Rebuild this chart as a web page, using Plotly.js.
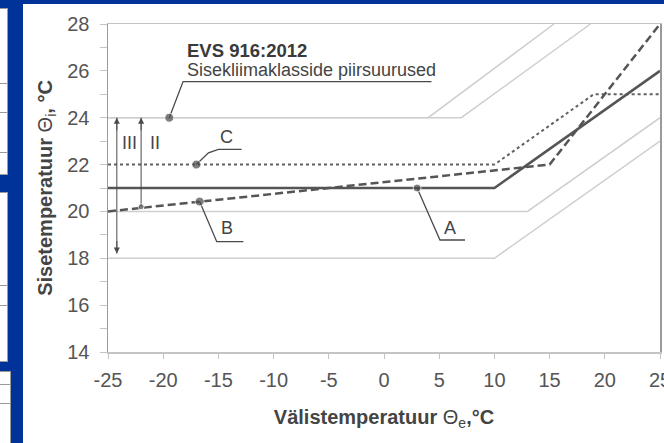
<!DOCTYPE html>
<html>
<head>
<meta charset="utf-8">
<script src="https://cdn.plot.ly/plotly-3.0.1.min.js"></script>
<style>
  html, body { margin: 0; padding: 0; background: #00339a; width: 664px; height: 443px; overflow: hidden; }
  #chart { position: absolute; left: 23px; top: 4px; width: 641px; height: 439px; }
  .pnl { position: absolute; background: #fff; border: 1px solid #9a9a9a; box-sizing: border-box; }
  .row { position: absolute; left: 0; right: 0; height: 0; border-top: 1px solid #9a9a9a; }
</style>
</head>
<body>
<div class="pnl" style="left:-2px; top:8px; width:10px; height:167px;">
  <div class="row" style="top:74px"></div><div class="row" style="top:103px"></div><div class="row" style="top:143px"></div>
</div>
<div class="pnl" style="left:-2px; top:192px; width:10px; height:170px;">
  <div class="row" style="top:92px"></div><div class="row" style="top:112px"></div>
</div>
<div class="pnl" style="left:-2px; top:371px; width:13px; height:80px;">
  <div class="row" style="top:12px"></div><div class="row" style="top:31px"></div>
</div>
<div id="chart"></div>
<script>
// Measured curves (x: outdoor temperature, y: indoor temperature)
const xA = [-25, 10, 25];        const yA = [21, 21, 26];
const xB = [-25, 15, 25];        const yB = [20, 22, 28];
const xC = [-25, 10, 19, 25];    const yC = [22, 22, 25, 25];
// EVS 916:2012 class limit lines
const xU1 = [-25, 4, 15.4];      const yU1 = [24, 24, 28];
const xU2 = [-25, 7, 18.7];      const yU2 = [24, 24, 28];
const xL1 = [-25, 13, 25];       const yL1 = [20, 20, 24];
const xL2 = [-25, 10, 25];       const yL2 = [18, 18, 23];
// Label dots and leader lines
const dotX = [-19.45, -17, -16.7, 3, -22];
const dotY = [24, 22, 20.42, 21, 20.2];
const leadEVSx = [-19.45, -18.2, 4.3];  const leadEVSy = [24, 25.54, 25.54];
const leadCx = [-17, -15.9, -15.0, -12.9]; const leadCy = [22, 22.5, 22.65, 22.65];
const leadBx = [-16.7, -15.15, -12.74]; const leadBy = [20.42, 18.71, 18.71];
const leadAx = [3, 5.07, 7.34];         const leadAy = [21, 18.78, 18.78];
// Labels
const labTxt = ['C', 'B', 'A', 'III', 'II'];
const labX = [-14.25, -14.25, 5.98, -23.07, -20.74];
const labY = [23.19, 19.28, 19.28, 22.9, 22.9];
// Class range arrows
const arrIII = {x: -24.2, y0: 18.2, y1: 24};
const arrII = {x: -22, y0: 20.2, y1: 24};
const xTicks = [-25, -20, -15, -10, -5, 0, 5, 10, 15, 20, 25];
const yTicks = [14, 16, 18, 20, 22, 24, 26, 28];

const FONT = 'Liberation Sans, Arial, sans-serif';
const gray = '#cfcfcf', dark = '#555555', lead = '#4a4a4a';

function ln(x, y, color, width, dash) {
  return {x: x, y: y, type: 'scatter', mode: 'lines', hoverinfo: 'skip', showlegend: false,
          line: {color: color, width: width, dash: dash || 'solid'}};
}
const traces = [
  ln(xU1, yU1, gray, 1.5), ln(xU2, yU2, gray, 1.5), ln(xL1, yL1, gray, 1.5), ln(xL2, yL2, gray, 1.5),
  ln(xC, yC, '#606060', 2, 'dot'),
  ln(xA, yA, dark, 2.5),
  ln(xB, yB, dark, 2.5, '8px,4px'),
  ln(leadEVSx, leadEVSy, lead, 1.3), ln(leadCx, leadCy, lead, 1.3),
  ln(leadBx, leadBy, lead, 1.3), ln(leadAx, leadAy, lead, 1.3),
  ln([arrIII.x, arrIII.x], [arrIII.y0, arrIII.y1], lead, 1),
  ln([arrII.x, arrII.x], [arrII.y0, arrII.y1], lead, 1),
  {x: dotX, y: dotY, type: 'scatter', mode: 'markers', hoverinfo: 'skip', showlegend: false,
   marker: {color: '#4a4a4a', size: [9, 9, 9, 8, 6]}}
];

const ann = [];
labTxt.forEach((t, i) => ann.push({x: labX[i], y: labY[i], xref: 'x', yref: 'y', text: t, showarrow: false,
  font: {family: FONT, size: 18, color: '#444'}}));
ann.push({x: -18.03, y: 26.89, xref: 'x', yref: 'y', xanchor: 'left', text: '<b>EVS 916:2012</b>', showarrow: false,
  font: {family: FONT, size: 18.5, color: '#3a3a3a'}});
ann.push({x: -18.03, y: 26.02, xref: 'x', yref: 'y', xanchor: 'left', text: 'Sisekliimaklasside piirsuurused', showarrow: false,
  font: {family: FONT, size: 18, color: '#444'}});
// arrowheads
function head(xx, yy, ty) {
  ann.push({x: xx, y: yy, ax: xx, ay: ty, xref: 'x', yref: 'y', axref: 'x', ayref: 'y', text: '',
    showarrow: true, arrowhead: 2, arrowsize: 1.2, arrowwidth: 1, arrowcolor: lead});
}
head(arrIII.x, arrIII.y1, arrIII.y1 - 0.6);
head(arrIII.x, arrIII.y0, arrIII.y0 + 0.6);
head(arrII.x, arrII.y1, arrII.y1 - 0.6);

const layout = {
  width: 641, height: 439,
  margin: {l: 85, r: 4, t: 20, b: 91},
  paper_bgcolor: '#ffffff', plot_bgcolor: '#ffffff',
  font: {family: FONT, color: '#555'},
  xaxis: {
    range: [-25, 25], tickvals: xTicks, ticktext: xTicks.map(String),
    showgrid: false, zeroline: false, showline: true, linecolor: '#c4c4c4', linewidth: 1.5, mirror: true,
    ticks: 'outside', ticklen: 5, tickcolor: '#c4c4c4', ticklabelstandoff: 4, ticklabeloverflow: 'allow',
    tickfont: {family: FONT, size: 20, color: '#555'},
    title: {text: '<b>Välistemperatuur</b> Θ<sub>e</sub><b>,°C</b>', standoff: 20,
            font: {family: FONT, size: 20, color: '#444'}}
  },
  yaxis: {
    range: [14, 28], tickvals: yTicks, ticktext: yTicks.map(String),
    showgrid: false, zeroline: false, showline: true, linecolor: '#9a9a9a', linewidth: 1.5, mirror: true,
    ticks: 'outside', ticklen: 7, tickcolor: '#c4c4c4', ticklabelstandoff: 6, ticklabeloverflow: 'allow',
    tickfont: {family: FONT, size: 20, color: '#555'},
    minor: {dtick: 1, ticks: 'outside', ticklen: 7, tickcolor: '#c4c4c4'},
    title: {text: '<b>Sisetemperatuur</b> Θ<sub>i</sub><b>, °C</b>', standoff: 9,
            font: {family: FONT, size: 20, color: '#444'}}
  },
  annotations: ann
};
Plotly.newPlot('chart', traces, layout, {displayModeBar: false, staticPlot: true});
</script>
</body>
</html>
